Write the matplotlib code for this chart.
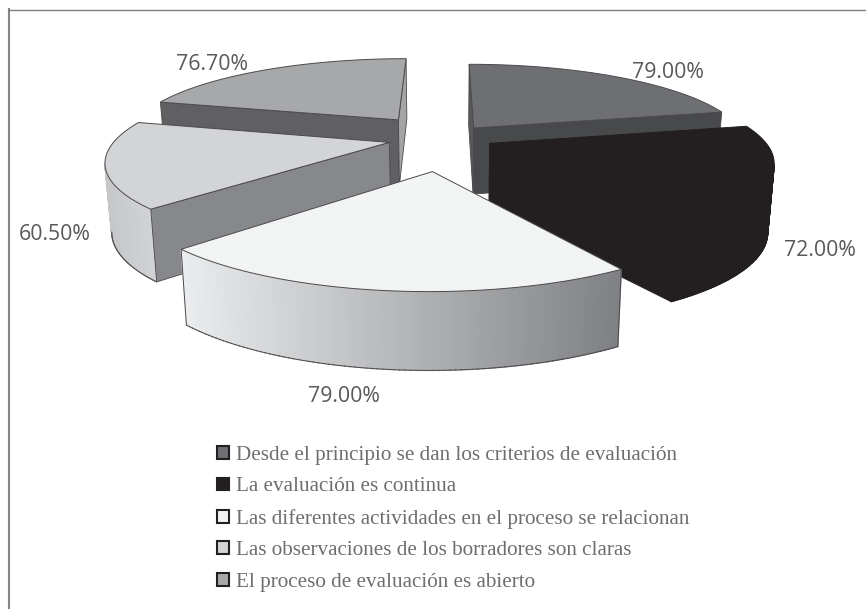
import numpy as np
import matplotlib
matplotlib.use('Agg')
import matplotlib.pyplot as plt
from matplotlib.colors import to_rgb
from matplotlib.patches import Patch

# --- DATA ---
labels = ['Desde el principio se dan los criterios de evaluación',
          'La evaluación es continua',
          'Las diferentes actividades en el proceso se relacionan',
          'Las observaciones de los borradores son claras',
          'El proceso de evaluación es abierto']
values = [79.0, 72.0, 79.0, 60.5, 76.7]
explode = [0.166, 0.171, 0.39, 0.212, 0.299]

top_colors = ['#6e6f72', '#231f20', '#f2f4f4', '#d3d4d6', '#a7a8aa']
start_wall = ['#58595b', '#231f20', '#8a8b8e', '#87888b', '#606062']
end_wall = ['#48494b', '#231f20', '#8a8b8e', '#87888b', '#a3a4a6']
arc_left = ['#6e6f72', '#231f20', '#ebeced', '#c6c7c9', '#a7a8aa']
arc_right = ['#6e6f72', '#231f20', '#7f8083', '#d2d3d5', '#a7a8aa']
edges = ['#4a4a4c', '#231f20', '#4a4a4c', '#4a4a4c', '#4a4a4c']
draw_order = [4, 3, 0, 1, 2]

# --- 3D PIE PROJECTION (perspective on a flat plan) ---
cx, cy = 446, 138
radius, squash, persp = 273, 80, 0.2
depth, shrink = 67, 0.98


def project(px, py, bottom=False):
    s = 1 / (1 - persp * py)
    x = cx + radius * px * s
    y = cy + squash * py * s
    if bottom:
        x = cx + (x - cx) * shrink
        y = y + depth * s ** 0.5
    return x, y


def faces_viewer(x0, y0, x1, y1, xin, yin):
    # a wall shows when the inside of the slice and "down" lie on opposite sides of its top edge
    dx, dy = x1 - x0, y1 - y0
    inside = dx * (yin - y0) - dy * (xin - x0)
    down = dx * 1.0
    return inside * down < 0


fig = plt.figure(figsize=(8.66, 6.09), dpi=100)
ax = fig.add_axes([0, 0, 1, 1])
ax.set_xlim(0, 866)
ax.set_ylim(609, 0)
ax.axis('off')

# frame, only left and top are there
ax.plot([9, 9], [609, 9], color='#85858a', lw=1.5)
ax.plot([9, 866], [9.5, 9.5], color='#7d7d7f', lw=1.0)

angles = np.cumsum([0] + values) / sum(values) * 2 * np.pi

z = 2
for i in draw_order:
    a0, a1 = angles[i], angles[i + 1]
    mid = (a0 + a1) / 2
    ox, oy = explode[i] * np.sin(mid), -explode[i] * np.cos(mid)
    t = np.linspace(a0, a1, 90)
    px = ox + np.sin(t)
    py = oy - np.cos(t)
    sx, sy = project(px, py)
    bx, by = project(px, py, True)
    ax0, ay0 = project(ox, oy)
    bx0, by0 = project(ox, oy, True)
    inx, iny = sx.mean(), sy.mean()

    # outer wall, shaded across the screen, only the strips that face the viewer
    c0, c1 = np.array(to_rgb(arc_left[i])), np.array(to_rgb(arc_right[i]))
    for k in range(len(t) - 1):
        if not faces_viewer(sx[k], sy[k], sx[k + 1], sy[k + 1], ax0, ay0):
            continue
        f = ((sx[k] + sx[k + 1]) / 2 - sx.min()) / (sx.max() - sx.min())
        col = c0 + (c1 - c0) * f
        ax.fill([sx[k], sx[k + 1], bx[k + 1], bx[k]],
                [sy[k], sy[k + 1], by[k + 1], by[k]],
                color=col, lw=1.0, zorder=z)
        ax.plot([bx[k], bx[k + 1]], [by[k], by[k + 1]], color=edges[i], lw=0.7,
                zorder=z + 1)
    z += 2

    # radial walls
    for j, wc in [(0, start_wall[i]), (-1, end_wall[i])]:
        if faces_viewer(ax0, ay0, sx[j], sy[j], inx, iny):
            ax.fill([ax0, sx[j], bx[j], bx0], [ay0, sy[j], by[j], by0],
                    fc=wc, ec=edges[i], lw=0.6, zorder=z)
            z += 1
    if i == 2:
        # the two corners of the front slice
        for j in (0, -1):
            ax.plot([sx[j], bx[j]], [sy[j], by[j]], color=edges[i], lw=0.7, zorder=z)
        z += 1

    # top face
    ax.fill(np.r_[ax0, sx], np.r_[ay0, sy], fc=top_colors[i], ec=edges[i], lw=0.7,
            zorder=z)
    z += 1

# --- VALUE LABELS ---
label_pos = [(668, 72), (820, 251), (344, 396), (55, 234), (212, 65)]
for v, (lx, ly) in zip(values, label_pos):
    ax.text(lx, ly, f'{v:.2f}%', ha='center', va='center', color='#58595b',
            fontsize=15.3, family='Open Sans', zorder=100)

# --- LEGEND ---
handles = [Patch(fc=c, ec='#231f20', lw=1.5) for c in top_colors]
ax.legend(handles, labels, loc='upper left', bbox_to_anchor=(217 / 866, 1 - 446 / 609),
          frameon=False, ncol=1, labelspacing=0.59, borderpad=0,
          borderaxespad=0, handlelength=0.57, handleheight=0.57, handletextpad=0.32,
          labelcolor='#6d6e71', prop={'family': 'Liberation Serif', 'size': 15.2})

fig.savefig('out.png', dpi=100)
